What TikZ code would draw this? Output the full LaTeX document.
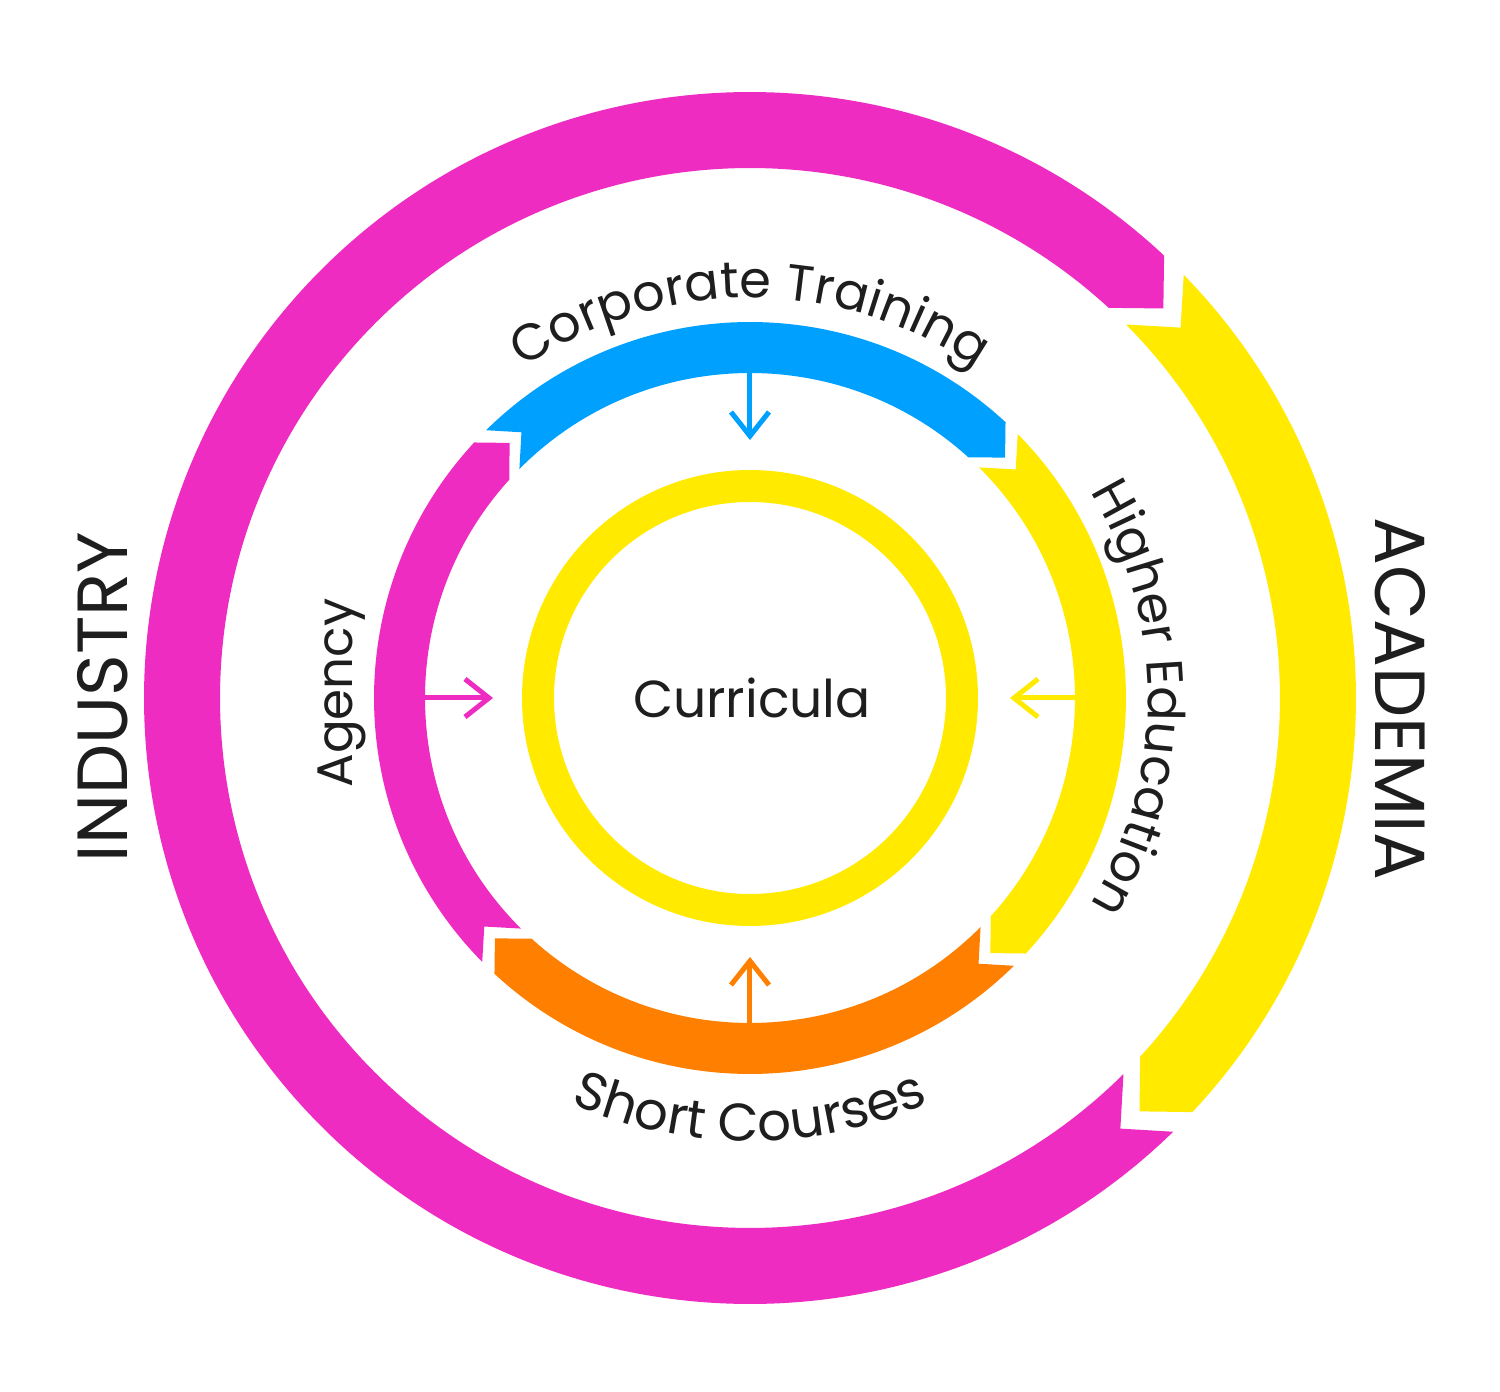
\documentclass[tikz,border=0pt]{standalone}
\usepackage{fontspec}
\setmainfont{Poppins}
\usetikzlibrary{decorations.text}
\definecolor{cmag}{RGB}{238,44,194}
\definecolor{cyel}{RGB}{255,234,0}
\definecolor{cblu}{RGB}{0,160,255}
\definecolor{cora}{RGB}{255,128,0}
\definecolor{ctxt}{RGB}{30,30,30}
% colour, Rin, Rout, tail angle, head angle (clockwise band with chevron ends)
\newcommand{\chevseg}[5]{%
  \pgfmathsetmacro{\rmid}{(#2+#3)/2}%
  \pgfmathsetmacro{\hw}{(#3-#2)/2}%
  \pgfmathsetmacro{\dout}{\hw/#3*180/pi}%
  \pgfmathsetmacro{\din}{\hw/#2*180/pi}%
  \pgfmathsetmacro{\ta}{#4+\dout}%
  \pgfmathsetmacro{\tb}{#5+\dout}%
  \pgfmathsetmacro{\tc}{#5+\din}%
  \pgfmathsetmacro{\td}{#4+\din}%
  \fill[#1] (\ta:#3) arc[start angle=\ta, end angle=\tb, radius=#3]
    -- (#5:\rmid) -- (\tc:#2) arc[start angle=\tc, end angle=\td, radius=#2]
    -- (#4:\rmid) -- cycle;
}
\begin{document}
\begin{tikzpicture}[x=0.5pt,y=0.5pt,
  smallarr/.style={line width=2.5pt, line join=miter},
  bigtxt/.style={text=ctxt, inner sep=0pt, font=\fontsize{35.5pt}{35.5pt}\selectfont},
  midtxt/.style={text=ctxt, inner sep=0pt, font=\fontsize{26pt}{26pt}\selectfont},
  arctxt/.style={decorate, decoration={text along path, text align=center, text color=ctxt}}]
\fill[white] (-750,-694) rectangle (750,698);
\useasboundingbox (-750,-694) rectangle (750,698);

% outer ring
\chevseg{cmag}{530}{606}{310.7}{43.3}
\chevseg{cyel}{530}{606}{40.7}{-46.7}

% inner ring
\chevseg{cblu}{325}{376}{130.7}{43.3}
\chevseg{cyel}{325}{376}{40.7}{-46.7}
\chevseg{cora}{325}{376}{-49.3}{-136.7}
\chevseg{cmag}{325}{376}{220.7}{133.3}

% centre ring
\draw[cyel, line width=16pt] (0,0) circle[radius=212];
\node[midtxt] (curr) at (2,0) {Curricula};

% small arrows
\coordinate (bs) at (0,328); \coordinate (bt) at (0,262);
\draw[smallarr, cblu] (bs) -- (bt);
\draw[smallarr, cblu] ([shift={(-19,24)}]bt) -- (bt) -- ([shift={(19,24)}]bt);

\coordinate (os) at (0,-328); \coordinate (ot) at (0,-263);
\draw[smallarr, cora] (os) -- (ot);
\draw[smallarr, cora] ([shift={(-19,-24)}]ot) -- (ot) -- ([shift={(19,-24)}]ot);

\coordinate (ms) at (-328,0); \coordinate (mt) at (-261,0);
\draw[smallarr, cmag] (ms) -- (mt);
\draw[smallarr, cmag] ([shift={(-24,19)}]mt) -- (mt) -- ([shift={(-24,-19)}]mt);

\coordinate (ys) at (331,0); \coordinate (yt) at (264,0);
\draw[smallarr, cyel] (ys) -- (yt);
\draw[smallarr, cyel] ([shift={(24,19)}]yt) -- (yt) -- ([shift={(24,-19)}]yt);

% labels
\node[bigtxt, rotate=90] (industry) at (-647,1) {INDUSTRY};
\node[bigtxt, rotate=-90] (academia) at (650,-1) {ACADEMIA};
\node[text=ctxt, inner sep=0pt, font=\fontsize{25pt}{25pt}\selectfont, anchor=base, rotate=90] (agency) at (-397,5) {Agency};

\path[arctxt, decoration={text={|\fontsize{25.5pt}{25.5pt}\selectfont|Corporate Training}}]
  (150:400) arc[start angle=150, end angle=30, radius=400];
\path[arctxt, decoration={text={|\fontsize{25.5pt}{25.5pt}\selectfont|Higher Education}}]
  (60:398) arc[start angle=60, end angle=-60, radius=398];
\path[arctxt, decoration={text={|\fontsize{26.5pt}{26.5pt}\selectfont|Short Courses}}]
  (-150:443) arc[start angle=-150, end angle=-30, radius=443];
\end{tikzpicture}
\end{document}
